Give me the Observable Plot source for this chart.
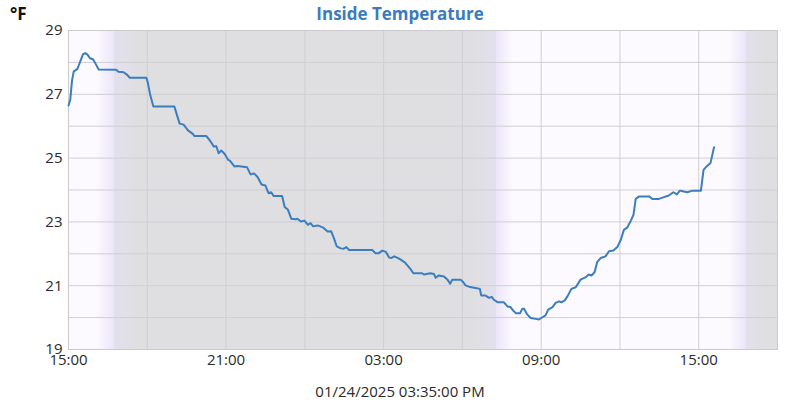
<!DOCTYPE html>
<html>
<head>
<meta charset="utf-8">
<script src="https://cdn.jsdelivr.net/npm/d3@7"></script>
<script src="https://cdn.jsdelivr.net/npm/@observablehq/plot@0.6"></script>
<style>
  html, body { margin: 0; padding: 0; background: #fff; }
  body { width: 800px; font-family: "Open Sans", sans-serif; position: relative; }
  #title { height: 28px; line-height: 28px; text-align: center; font-size: 17px; font-weight: 700; color: #3b7bbd; }
  #unit { position: absolute; left: 10px; top: 0; height: 28px; line-height: 28px; font-size: 17px; font-weight: 700; color: #111; }
  #caption { height: 20px; line-height: 20px; padding-top: 7px; text-align: center; font-size: 15px; color: #2a2a2a; }
  #chart svg { display: block; overflow: visible; }
</style>
</head>
<body>
<div id="unit">°F</div>
<div id="title">Inside Temperature</div>
<div id="chart"></div>
<div id="caption">01/24/2025 03:35:00 PM</div>
<script>
// ---- data ----
const startTime = "2025-01-23T15:00:00";
const domainEndMinutes = 1620; // 18:00 next day
// minutes after start
const minutes = [0,4,8,12,20,25,33,38,43,49,56,63,69,109,114,126,134,140,178,181,187,194,242,248,254,263,273,284,288,315,322,328,332,338,343,349,357,364,370,379,386,408,416,424,432,441,450,457,463,469,488,494,501,509,519,523,531,539,547,553,559,569,581,592,600,607,613,622,629,635,641,694,701,709,717,725,733,738,744,752,760,770,781,788,808,812,827,835,839,846,858,866,872,877,896,902,907,915,930,940,943,953,961,967,972,981,995,1003,1010,1016,1022,1032,1037,1041,1048,1056,1067,1075,1083,1090,1096,1106,1113,1121,1126,1134,1141,1149,1159,1170,1182,1189,1195,1202,1208,1216,1227,1235,1245,1254,1262,1269,1277,1285,1291,1296,1304,1327,1334,1349,1359,1368,1374,1382,1390,1397,1406,1414,1426,1445,1451,1458,1467,1475];
const tempF = [26.65,26.83,27.43,27.72,27.79,27.96,28.25,28.29,28.25,28.13,28.10,27.93,27.78,27.77,27.71,27.69,27.61,27.52,27.52,27.38,26.96,26.62,26.62,26.34,26.08,26.05,25.87,25.76,25.69,25.69,25.57,25.45,25.36,25.37,25.15,25.24,25.13,24.96,24.90,24.74,24.75,24.71,24.49,24.52,24.41,24.17,24.14,23.90,23.93,23.81,23.81,23.47,23.39,23.10,23.08,23.10,23.01,23.04,22.91,22.96,22.86,22.89,22.83,22.70,22.71,22.47,22.23,22.17,22.16,22.21,22.12,22.12,22.02,22.02,22.10,22.06,21.88,21.87,21.92,21.87,21.81,21.71,21.53,21.39,21.39,21.35,21.39,21.37,21.25,21.32,21.29,21.19,21.06,21.19,21.19,21.11,21.01,20.97,20.93,20.90,20.69,20.69,20.62,20.65,20.56,20.48,20.48,20.35,20.33,20.22,20.14,20.14,20.28,20.28,20.10,19.99,19.96,19.94,20.01,20.07,20.25,20.33,20.46,20.51,20.48,20.54,20.69,20.90,20.95,21.19,21.27,21.35,21.32,21.42,21.74,21.87,21.92,22.08,22.10,22.21,22.44,22.75,22.83,23.04,23.23,23.72,23.80,23.80,23.72,23.72,23.77,23.81,23.85,23.93,23.86,23.98,23.95,23.93,23.98,23.98,24.63,24.74,24.85,25.34];
// background (daylight) stops, minutes after start, and kind of light
const bgStopMinutes = [0,62,105,105,158,926,976,976,1017,1509,1547,1547,1589,1620];
const bgStopKinds = ["day","day","peak","dusk","night","night","dusk","peak","day","day","peak","dusk","night","night"];
const yGridValues = [19,20,21,22,23,24,25,26,27,28,29];
const yTickValues = [19,21,23,25,27,29];
const xGridHours = [0,3,6,9,12,15,18,21,24,27];
const xTickHours = [0,6,12,18,24];

// ---- build ----
const t0 = new Date(startTime);
const at = m => new Date(t0.getTime() + m * 60000);
const data = minutes.map((m, i) => ({t: at(m), v: tempF[i]}));
const kindColor = {day: "#fcfaff", peak: "#ece5f9", dusk: "#e3e0ee", night: "#dfdfe2"};

const chart = Plot.plot({
  width: 800,
  height: 346,
  marginTop: 2,
  marginBottom: 25,
  marginLeft: 68,
  marginRight: 23,
  style: {fontFamily: "Open Sans, sans-serif", fontSize: "15px", color: "#2a2a2a", background: "transparent", overflow: "visible"},
  x: {type: "time", domain: [t0, at(domainEndMinutes)]},
  y: {domain: [19, 29]},
  marks: [
    Plot.frame({fill: "url(#bgGrad)", stroke: null}),
    Plot.gridY(yGridValues, {stroke: "#cfcfd3", strokeOpacity: 1, strokeWidth: 1}),
    Plot.gridX(xGridHours.map(h => at(h * 60)), {stroke: "#cfcfd3", strokeOpacity: 1, strokeWidth: 1}),
    Plot.frame({stroke: "#cbcbcf", strokeWidth: 1}),
    Plot.line(data, {x: "t", y: "v", stroke: "#3b7dbf", strokeWidth: 2, strokeLinejoin: "round"}),
    Plot.axisY(yTickValues, {tickSize: 0, tickPadding: 6, label: null, fontSize: 15, fill: "#2a2a2a"}),
    Plot.axisX(xTickHours.map(h => at(h * 60)), {tickSize: 0, tickPadding: 5, label: null, fontSize: 15, fill: "#2a2a2a", tickFormat: d3.timeFormat("%H:%M")})
  ]
});

const ns = "http://www.w3.org/2000/svg";
const xs = chart.scale("x");
const [rx0, rx1] = xs.range;
const defs = document.createElementNS(ns, "defs");
const grad = document.createElementNS(ns, "linearGradient");
grad.setAttribute("id", "bgGrad");
grad.setAttribute("gradientUnits", "userSpaceOnUse");
grad.setAttribute("x1", rx0); grad.setAttribute("x2", rx1);
grad.setAttribute("y1", 0); grad.setAttribute("y2", 0);
bgStopMinutes.forEach((m, i) => {
  const s = document.createElementNS(ns, "stop");
  s.setAttribute("offset", (xs.apply(at(m)) - rx0) / (rx1 - rx0));
  s.setAttribute("stop-color", kindColor[bgStopKinds[i]]);
  grad.appendChild(s);
});
defs.appendChild(grad);
chart.insertBefore(defs, chart.firstChild);
document.getElementById("chart").appendChild(chart);
</script>
</body>
</html>
